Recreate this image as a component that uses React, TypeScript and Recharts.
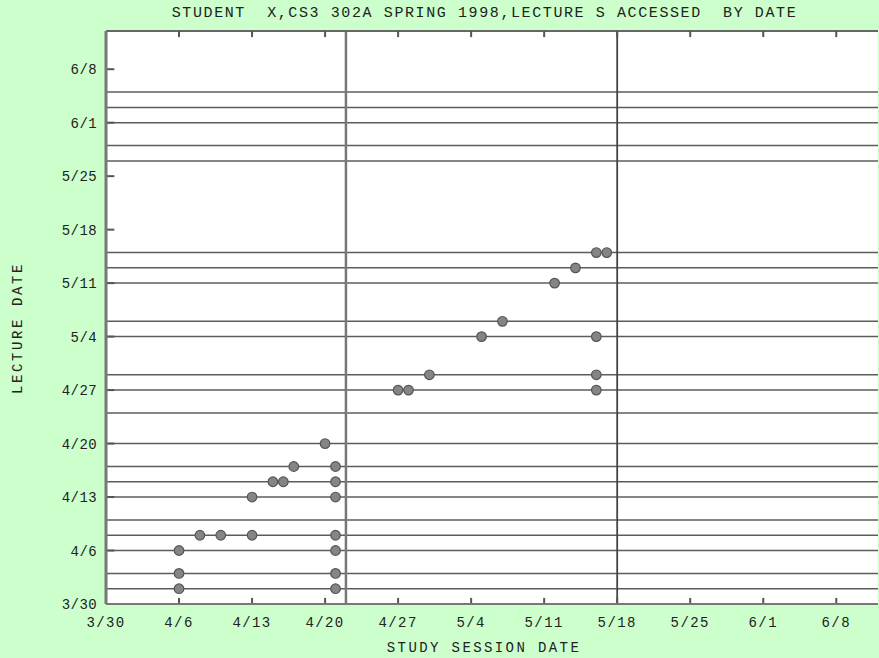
import { ScatterChart, Scatter, XAxis, YAxis, ReferenceLine, CartesianGrid } from "recharts"

// all dates are 1998, written m/d as on the chart
const dateTicks = ["3/30", "4/6", "4/13", "4/20", "4/27", "5/4", "5/11", "5/18", "5/25", "6/1", "6/8"]

const lectureDates = [
  "4/1", "4/3", "4/6", "4/8", "4/10", "4/13", "4/15", "4/17", "4/20", "4/24", "4/27",
  "4/29", "5/4", "5/6", "5/11", "5/13", "5/15", "5/27", "5/29", "6/1", "6/3", "6/5",
]

const examDates = ["4/22", "5/18"]

// one entry per access: study session date -> lecture accessed
const sessionDates = [
  "4/6", "4/6", "4/6", "4/8", "4/10", "4/13", "4/13", "4/15", "4/16", "4/17", "4/20",
  "4/21", "4/21", "4/21", "4/21", "4/21", "4/21", "4/21",
  "4/27", "4/28", "4/30", "5/5", "5/7", "5/12", "5/14", "5/16", "5/17",
  "5/16", "5/16", "5/16",
]
const accessedLectures = [
  "4/1", "4/3", "4/6", "4/8", "4/8", "4/8", "4/13", "4/15", "4/15", "4/17", "4/20",
  "4/1", "4/3", "4/6", "4/8", "4/13", "4/15", "4/17",
  "4/27", "4/27", "4/29", "5/4", "5/6", "5/11", "5/13", "5/15", "5/15",
  "5/4", "4/29", "4/27",
]

const dayOf = (md: string) => {
  const [m, d] = md.split("/").map(Number)
  return Math.round((Date.UTC(1998, m - 1, d) - Date.UTC(1998, 2, 30)) / 86400000)
}

const X_MAX = 74
const Y_MAX = 75

const tickDays = dateTicks.map(dayOf)
const tickLabel: Record<number, string> = {}
dateTicks.forEach((t) => (tickLabel[dayOf(t)] = t))

const data = sessionDates.map((s, i) => ({ x: dayOf(s), y: dayOf(accessedLectures[i]) }))

const FONT = '"Liberation Mono", "Courier New", monospace'
const BG = "#ccffcc"
const INK = "#222"

function BottomTick({ x, y, payload }: any) {
  return (
    <text x={x} y={y + 23} textAnchor="middle" fontFamily={FONT} fontSize={14} letterSpacing={1.4} fill={INK}>
      {tickLabel[payload.value]}
    </text>
  )
}

function LeftTick({ x, y, payload }: any) {
  return (
    <text x={x - 9} y={y + 5} textAnchor="end" fontFamily={FONT} fontSize={14} letterSpacing={0.4} fill={INK}>
      {tickLabel[payload.value]}
    </text>
  )
}

function Dot({ cx, cy }: any) {
  return <circle cx={cx} cy={cy} r={4.8} fill="#858585" stroke="#555" strokeWidth={1.2} />
}

export default function App() {
  return (
    <div style={{ position: "absolute", left: 0, top: 0, width: 879, height: 658, background: BG }}>
      <div
        style={{
          position: "absolute",
          left: 0,
          top: 5,
          width: 969,
          textAlign: "center",
          fontFamily: FONT,
          fontSize: 15,
          letterSpacing: 1.6,
          color: INK,
          lineHeight: "18px",
          whiteSpace: "pre",
        }}
      >
        STUDENT  X,CS3 302A SPRING 1998,LECTURE S ACCESSED  BY DATE
      </div>
      <ScatterChart width={879} height={658} margin={{ top: 31, right: 1, bottom: 24, left: 46 }}>
        <CartesianGrid fill="#ffffff" horizontal={false} vertical={false} />
        <XAxis
          type="number"
          dataKey="x"
          domain={[0, X_MAX]}
          allowDataOverflow
          ticks={tickDays}
          interval={0}
          height={30}
          tickSize={0}
          tickMargin={0}
          tickLine={false}
          tick={(p: any) => <BottomTick {...p} />}
          axisLine={{ stroke: "#777", strokeWidth: 2 }}
          label={{
            content: () => (
              <text x={484} y={652} textAnchor="middle" fontFamily={FONT} fontSize={14} letterSpacing={2.4} fill={INK}>
                STUDY SESSION DATE
              </text>
            ),
          }}
        />
        <YAxis
          type="number"
          dataKey="y"
          domain={[0, Y_MAX]}
          allowDataOverflow
          ticks={tickDays}
          interval={0}
          width={60}
          tickSize={0}
          tickMargin={0}
          tickLine={false}
          tick={(p: any) => <LeftTick {...p} />}
          axisLine={{ stroke: "#777", strokeWidth: 3 }}
          label={{
            content: () => (
              <text
                x={22}
                y={328}
                transform="rotate(-90 22 328)"
                textAnchor="middle"
                fontFamily={FONT}
                fontSize={14}
                letterSpacing={2.6}
                fill={INK}
              >
                LECTURE DATE
              </text>
            ),
          }}
        />
        {lectureDates.map((d) => (
          <ReferenceLine key={d} y={dayOf(d)} stroke="#5c5c5c" strokeWidth={1.5} />
        ))}
        {examDates.map((d, i) => (
          <ReferenceLine key={d} x={dayOf(d)} stroke={i === 0 ? "#777" : "#444"} strokeWidth={i === 0 ? 2.5 : 1.8} />
        ))}
        {/* top border */}
        <ReferenceLine y={Y_MAX} stroke="#666" strokeWidth={2} />
        {/* inward tick marks: bottom, top, left */}
        {tickDays.slice(1).map((d) => (
          <ReferenceLine
            key={"b" + d}
            segment={[{ x: d, y: 0 }, { x: d, y: 0.8 }]}
            stroke="#555"
            strokeWidth={2}
          />
        ))}
        {tickDays.slice(1).map((d) => (
          <ReferenceLine
            key={"t" + d}
            segment={[{ x: d, y: Y_MAX }, { x: d, y: Y_MAX - 0.8 }]}
            stroke="#555"
            strokeWidth={2}
          />
        ))}
        {tickDays.slice(1).map((d) => (
          <ReferenceLine
            key={"l" + d}
            segment={[{ x: 0, y: d }, { x: 0.8, y: d }]}
            stroke="#555"
            strokeWidth={2}
          />
        ))}
        <Scatter data={data} shape={(p: any) => <Dot {...p} />} isAnimationActive={false} />
      </ScatterChart>
    </div>
  )
}
